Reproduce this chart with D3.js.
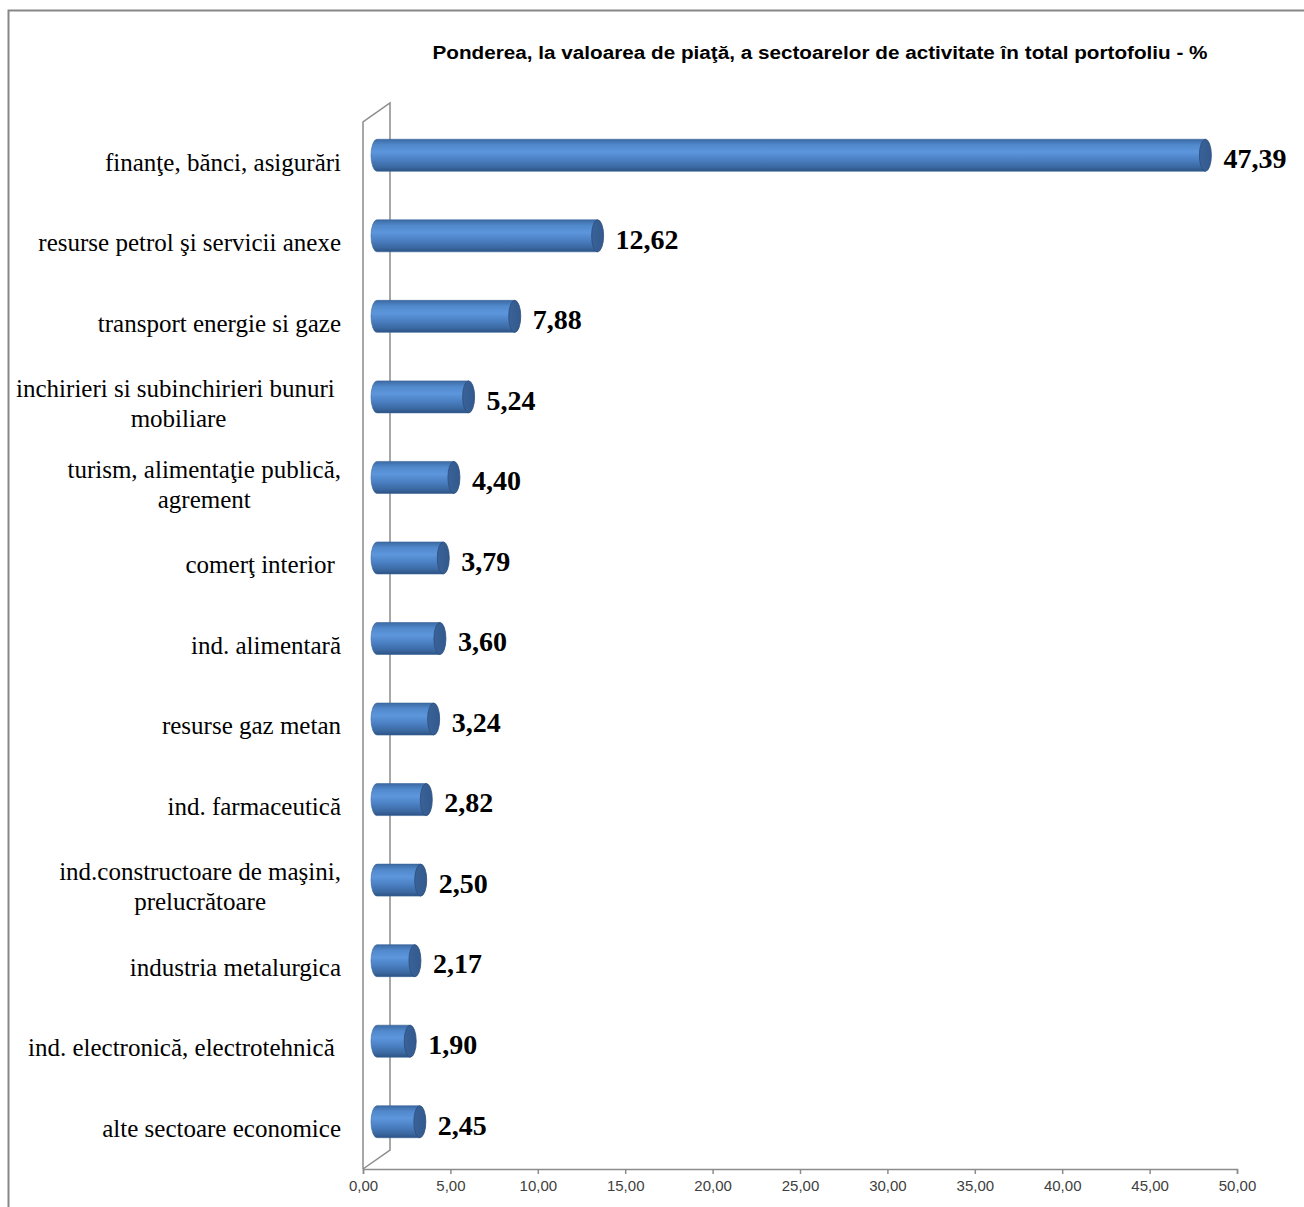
<!DOCTYPE html>
<meta charset="utf-8"/>
<html>
<head>
<script src="https://d3js.org/d3.v7.min.js"></script>
<style>
  * { margin: 0; padding: 0; }
  body { background: #fff; }
  .cat { font-family: "Liberation Serif", "Times New Roman", serif; font-size: 25px; fill: #000; white-space: pre; }
  .val { font-family: "Liberation Serif", "Times New Roman", serif; font-size: 28px; font-weight: bold; fill: #000; }
  .tick text { font-family: "Liberation Sans", Arial, sans-serif; font-size: 15px; fill: #404040; }
</style>
</head>
<body>
<div id="chart"></div>
<script>
// sectors (top to bottom) and weights in % of portfolio market value
const categories = [
  "finanţe, bănci, asigurări",
  "resurse petrol şi servicii anexe",
  "transport energie si gaze",
  "inchirieri si subinchirieri bunuri \nmobiliare",
  "turism, alimentaţie publică,\nagrement",
  "comerţ interior ",
  "ind. alimentară",
  "resurse gaz metan",
  "ind. farmaceutică",
  "ind.constructoare de maşini,\nprelucrătoare",
  "industria metalurgica",
  "ind. electronică, electrotehnică ",
  "alte sectoare economice"
];
const values = [47.39, 12.62, 7.88, 5.24, 4.40, 3.79, 3.60, 3.24, 2.82, 2.50, 2.17, 1.90, 2.45];
const ticks = [0, 5, 10, 15, 20, 25, 30, 35, 40, 45, 50];
const title = "Ponderea, la valoarea de piaţă, a sectoarelor de activitate în total portofoliu - %";

const W = 1304, H = 1207;
const fmt = v => d3.format(".2f")(v).replace(".", ",");

// 3d depth of the chart wall
const depth = {dx: 27, dy: -19};
const barOff = {dx: 14, dy: -7};

const svg = d3.select("#chart").append("svg")
  .attr("width", W).attr("height", H);

// outer frame
svg.append("rect")
  .attr("x", 8.5).attr("y", 10.5)
  .attr("width", W + 20).attr("height", H + 20)
  .attr("fill", "none").attr("stroke", "#878787").attr("stroke-width", 2);

svg.append("text")
  .attr("x", 820).attr("y", 59)
  .attr("text-anchor", "middle")
  .style("font-family", "'Liberation Sans', Arial, sans-serif")
  .style("font-size", "18px").style("font-weight", "bold")
  .attr("textLength", 775).attr("lengthAdjust", "spacingAndGlyphs")
  .text(title);

const x = d3.scaleLinear().domain([0, 50]).range([363, 1237]);
const y = d3.scaleBand().domain(d3.range(categories.length)).range([122, 1169]);

// wall (side walls in gray)
const wall = svg.append("g").attr("fill", "none").attr("stroke", "#8c8c8c").attr("stroke-width", 1.5);
const x0 = x(0), yTop = y.range()[0], yBot = y.range()[1];
wall.append("path").attr("d",
  `M${x0},${yBot} L${x0},${yTop} L${x0 + depth.dx},${yTop + depth.dy} L${x0 + depth.dx},${yBot + depth.dy} L${x0},${yBot}`);

// x axis
const axis = svg.append("g")
  .attr("transform", `translate(0,${yBot})`)
  .call(d3.axisBottom(x).tickValues(ticks).tickFormat(fmt).tickSize(5).tickPadding(6));
axis.select(".domain").attr("stroke", "#8c8c8c").attr("stroke-width", 1.5);
axis.selectAll(".tick line").attr("stroke", "#8c8c8c").attr("stroke-width", 1.5);

// gradients for cylinders
const defs = svg.append("defs");
const g1 = defs.append("linearGradient").attr("id", "cyl").attr("x1", 0).attr("y1", 0).attr("x2", 0).attr("y2", 1);
[[0, "#3c6aa3"], [0.18, "#5189cc"], [0.4, "#5d96dc"], [0.65, "#4a7fc2"], [0.88, "#3a679f"], [1, "#2c5284"]]
  .forEach(s => g1.append("stop").attr("offset", s[0]).attr("stop-color", s[1]));
const g2 = defs.append("linearGradient").attr("id", "cap").attr("x1", 0).attr("y1", 0).attr("x2", 1).attr("y2", 0);
[[0, "#3a6298"], [1, "#335a8e"]]
  .forEach(s => g2.append("stop").attr("offset", s[0]).attr("stop-color", s[1]));

const bh = 32, rx = 6;
const bars = svg.append("g").selectAll("g").data(values).join("g")
  .attr("transform", (d, i) => `translate(${barOff.dx},${y(i) + y.bandwidth() / 2 + barOff.dy})`);

bars.append("path")
  .attr("d", d => {
    const a = x(0), b = x(d);
    return `M${b},${-bh / 2} L${a},${-bh / 2} A${rx},${bh / 2} 0 0 0 ${a},${bh / 2} L${b},${bh / 2} Z`;
  })
  .attr("fill", "url(#cyl)")
  .attr("stroke", "#3a6499").attr("stroke-width", 0.6);

bars.append("ellipse")
  .attr("cx", d => x(d)).attr("cy", 0)
  .attr("rx", rx).attr("ry", bh / 2)
  .attr("fill", "url(#cap)")
  .attr("stroke", "#2b4e7e").attr("stroke-width", 0.8);

bars.append("text")
  .attr("class", "val")
  .attr("x", d => x(d) + rx + 12)
  .attr("y", 3)
  .attr("dy", "0.35em")
  .text(fmt);

// category labels, lines centred on each other, right edge near the wall
const labels = svg.append("g").selectAll("text").data(categories).join("text")
  .attr("class", "cat")
  .attr("text-anchor", "middle");
labels.each(function (d, i) {
  const t = d3.select(this);
  const lines = d.split("\n");
  const cy = y(i) + y.bandwidth() / 2;
  lines.forEach((ln, j) => {
    t.append("tspan").attr("y", cy + (j - (lines.length - 1) / 2) * 30).attr("dy", "0.33em").text(ln);
  });
  let maxW = 0;
  t.selectAll("tspan").each(function () { maxW = Math.max(maxW, this.getComputedTextLength()); });
  t.selectAll("tspan").attr("x", 341 - maxW / 2);
});
</script>
</body>
</html>
